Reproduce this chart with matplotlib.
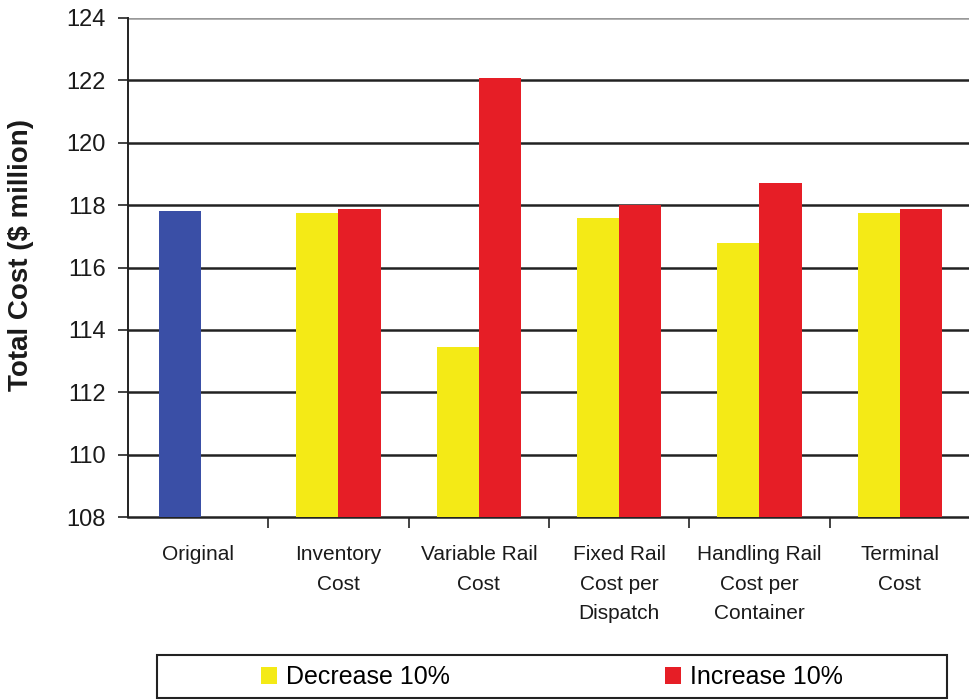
import numpy as np
import matplotlib
matplotlib.use("Agg")
from matplotlib import pyplot as plt
from matplotlib.patches import Rectangle

# 成本敏感性
categories = ["Original", "Inventory\nCost", "Variable Rail\nCost", "Fixed Rail\nCost per\nDispatch",
              "Handling Rail\nCost per\nContainer", "Terminal\nCost"]
original = [117.82]
decrease = [117.74, 113.45, 117.59, 116.8, 117.74]
increase = [117.88, 122.09, 118.02, 118.7, 117.88]
yticks = [108, 110, 112, 114, 116, 118, 120, 122, 124]

blue = "#3A4FA6"
yellow = "#F4EA16"
red = "#E61E26"

plt.rcParams['font.family'] = ['Liberation Sans', 'DejaVu Sans']

fig = plt.figure(figsize=(9.7, 7), dpi=100)
ax = fig.add_axes([128 / 970, 0.2614, 842 / 970, 0.7129])

w = 0.30
x = np.arange(len(categories))
base = 108
ax.bar(x[0] - w / 2 + 0.02, np.array(original) - base, w, bottom=base, color=blue, zorder=3)
ax.bar(x[1:] - w / 2, np.array(decrease) - base, w, bottom=base, color=yellow, zorder=3,
       label="Decrease 10%")
ax.bar(x[1:] + w / 2, np.array(increase) - base, w, bottom=base, color=red, zorder=3,
       label="Increase 10%")

ax.set_xlim(-0.5, len(categories) - 0.5)
ax.set_ylim(108, 124)
ax.set_yticks(yticks)
ax.set_yticklabels([str(t) for t in yticks], fontsize=17, color="#1a1a1a")

# gridlines like Excel
for t in yticks[1:-1]:
    ax.axhline(t, color="#222222", lw=1.8, zorder=1)
ax.axhline(124, color="#999999", lw=1.8, zorder=1)

ax.set_xticks(x[:-1] + 0.5)
ax.set_xticklabels([])
ax.tick_params(axis="x", length=8, width=1.2, direction="out", color="#222222")
ax.tick_params(axis="y", length=7, width=1.2, direction="out", color="#222222", pad=9)
for i, c in enumerate(categories):
    ax.text(i, 107.1, c, ha="center", va="top", fontsize=15, linespacing=1.7,
            color="#1a1a1a", transform=ax.transData)

for s in ["top", "right"]:
    ax.spines[s].set_visible(False)
ax.spines["left"].set_linewidth(1.4)
ax.spines["bottom"].set_linewidth(1.8)
ax.spines["left"].set_color("#222222")
ax.spines["bottom"].set_color("#222222")

ax.set_ylabel("Total Cost ($ million)", fontsize=20, fontweight="bold", color="#1a1a1a")
ax.yaxis.set_label_coords(-0.112, 0.525)

# legend box
fig.patches.append(Rectangle((157 / 970, 2 / 700), 790 / 970, 43 / 700, transform=fig.transFigure,
                             fill=False, edgecolor="#222222", lw=1.5))
fig.legend(loc="center", bbox_to_anchor=(552 / 970, 23 / 700), ncol=2, frameon=False,
           fontsize=18, handlelength=0.65, handleheight=0.65, handletextpad=0.35,
           columnspacing=8.6)

fig.savefig("out.png", dpi=100)
